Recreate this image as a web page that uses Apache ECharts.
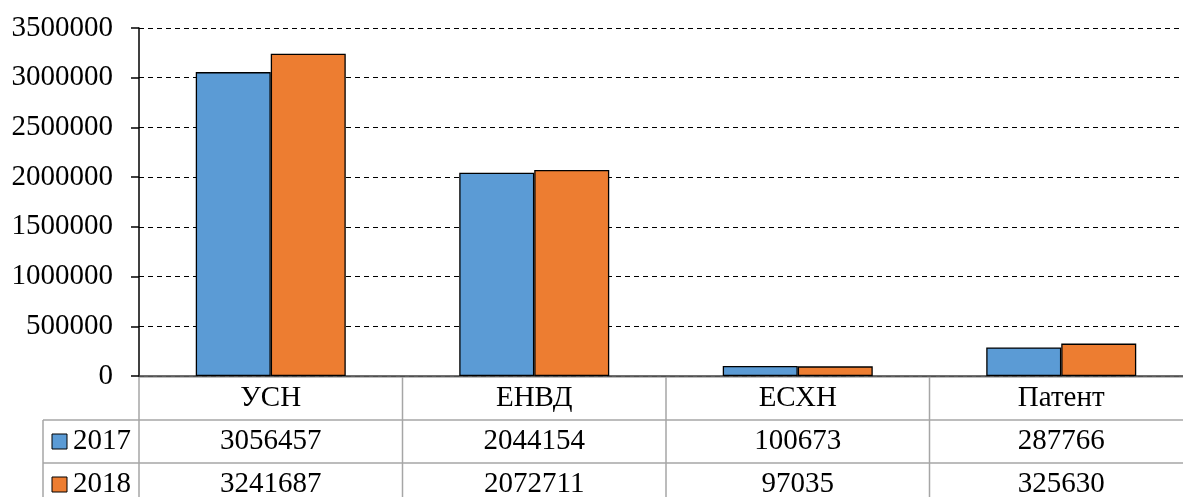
<!DOCTYPE html>
<html>
<head>
<meta charset="utf-8">
<script src="https://cdn.jsdelivr.net/npm/echarts@6/dist/echarts.min.js"></script>
<style>
  html, body { margin: 0; padding: 0; background: #fff; }
  #chart { width: 1183px; height: 497px; }
</style>
</head>
<body>
<div id="chart"></div>
<script>
const categories = ['УСН', 'ЕНВД', 'ЕСХН', 'Патент'];
const seriesNames = ['2017', '2018'];
const values2017 = [3056457, 2044154, 100673, 287766];
const values2018 = [3241687, 2072711, 97035, 325630];
const colors = ['#5B9BD5', '#ED7D31'];

const font = '"Liberation Serif", "Times New Roman", serif';
const fontSize = 29;
const gridLeft = 139, gridTop = 28, gridHeight = 348, gridWidth = 1054;
const rowH = 43;
const lineColor = '#a6a6a6';

let chart = echarts.init(document.getElementById('chart'));
chart.setOption({
  animation: false,
  grid: { left: gridLeft, top: gridTop, height: gridHeight, width: gridWidth, outerBoundsMode: 'none' },
  xAxis: {
    type: 'category',
    data: categories,
    axisLine: { lineStyle: { color: '#404040', width: 1.5 } },
    axisTick: { show: false },
    axisLabel: { show: false }
  },
  yAxis: {
    type: 'value',
    min: 0,
    max: 3500000,
    interval: 500000,
    axisLine: { show: true, lineStyle: { color: '#000', width: 1.5 } },
    axisTick: { show: true, length: 8, lineStyle: { color: '#000', width: 1.5 } },
    axisLabel: { color: '#000', fontFamily: font, fontSize: fontSize, margin: 26,
      formatter: function (v) { return String(v); } },
    splitLine: { lineStyle: { color: '#000', type: [5, 4], width: 1 } }
  },
  series: [
    { name: seriesNames[0], type: 'bar', data: values2017, barWidth: 75, barGap: '0%',
      itemStyle: { color: colors[0], borderColor: '#000', borderWidth: 1.3 } },
    { name: seriesNames[1], type: 'bar', data: values2018, barWidth: 75, barGap: '0%',
      itemStyle: { color: colors[1], borderColor: '#000', borderWidth: 1.3 } }
  ]
});

// data table under the axis
function drawTable() {
  const band = gridWidth / categories.length;
  const y0 = gridTop + gridHeight + 1;
  const rows = [values2017, values2018];
  const els = [];
  const bottom = y0 + rowH * 3;
  const txt = fontSize + 'px ' + font;
  // vertical lines
  for (let i = 0; i <= categories.length; i++) {
    const x = chart.convertToPixel({ xAxisIndex: 0 }, categories[Math.min(i, categories.length - 1)])
      + (i === categories.length ? band / 2 : -band / 2);
    els.push({ type: 'line', shape: { x1: x, y1: y0, x2: x, y2: bottom },
      style: { stroke: lineColor, lineWidth: 1.5 } });
  }
  const leftX = 43;
  els.push({ type: 'line', shape: { x1: leftX, y1: y0 + rowH, x2: leftX, y2: bottom },
    style: { stroke: lineColor, lineWidth: 1.5 } });
  for (let r = 0; r <= 3; r++) {
    const y = y0 + rowH * r;
    els.push({ type: 'line', shape: { x1: r === 0 ? gridLeft : leftX, y1: y, x2: gridLeft + gridWidth, y2: y },
      style: { stroke: lineColor, lineWidth: 1.5 } });
  }
  // header
  categories.forEach(function (c) {
    const x = chart.convertToPixel({ xAxisIndex: 0 }, c);
    els.push({ type: 'text', x: x, y: y0 + rowH / 2,
      style: { text: c, font: txt, fill: '#000', align: 'center', verticalAlign: 'middle' } });
  });
  // rows
  rows.forEach(function (vals, r) {
    const cy = y0 + rowH * (r + 1) + rowH / 2;
    els.push({ type: 'rect', shape: { x: 52, y: cy - 7.5, width: 15, height: 15 },
      style: { fill: colors[r], stroke: '#000', lineWidth: 1 } });
    els.push({ type: 'text', x: 73, y: cy,
      style: { text: seriesNames[r], font: txt, fill: '#000', align: 'left', verticalAlign: 'middle' } });
    vals.forEach(function (v, i) {
      const x = chart.convertToPixel({ xAxisIndex: 0 }, categories[i]);
      els.push({ type: 'text', x: x, y: cy,
        style: { text: String(v), font: txt, fill: '#000', align: 'center', verticalAlign: 'middle' } });
    });
  });
  chart.setOption({ graphic: { elements: els } });
}
drawTable();
window.addEventListener('resize', function () {
  chart.resize();
  drawTable();
});
</script>
</body>
</html>
